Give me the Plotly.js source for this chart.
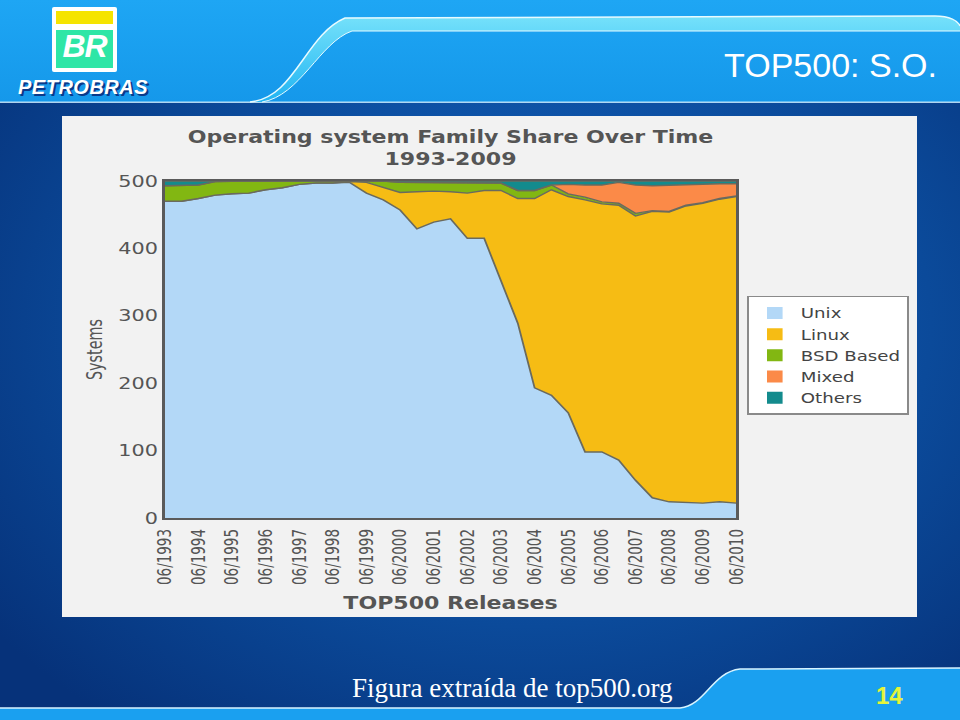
<!DOCTYPE html>
<html>
<head>
<meta charset="utf-8">
<script src="https://cdn.plot.ly/plotly-3.0.1.min.js"></script>
<style>
  html, body { margin:0; padding:0; width:960px; height:720px; overflow:hidden; background:#0a4590; }
  #bg { position:absolute; left:0; top:0; }
  #chart { position:absolute; left:62px; top:116px; width:658px; height:501px;
           transform: scaleX(1.2994); transform-origin: 0 0; }
  .txt { position:absolute; white-space:nowrap; }
</style>
</head>
<body>
<svg id="bg" width="960" height="720" xmlns="http://www.w3.org/2000/svg">
  <defs>
    <radialGradient id="dark" cx="0.55" cy="0.45" r="0.7">
      <stop offset="0" stop-color="#1466c4"/>
      <stop offset="0.6" stop-color="#0b4a9a"/>
      <stop offset="1" stop-color="#06327a"/>
    </radialGradient>
    <linearGradient id="topband" x1="0" y1="0" x2="0" y2="1">
      <stop offset="0" stop-color="#1ea6f4"/>
      <stop offset="1" stop-color="#1598ea"/>
    </linearGradient>
    <linearGradient id="cyan" x1="0" y1="0" x2="0" y2="1">
      <stop offset="0" stop-color="#7fe8fb"/>
      <stop offset="1" stop-color="#22b8f4"/>
    </linearGradient>
  </defs>
  <rect x="0" y="0" width="960" height="720" fill="url(#dark)"/>
  <rect x="0" y="0" width="960" height="102" fill="url(#topband)"/>
  <rect x="0" y="101.5" width="960" height="1.5" fill="#cfefff" opacity="0.85"/>
  <path d="M 250 102 C 295 98, 305 35, 345 18 L 935 16 C 950 16, 958 21, 960 26 L 960 31 L 352 31 C 320 42, 300 96, 262 102 Z" fill="url(#cyan)" opacity="0.9"/>
  <path d="M 250 102 C 295 98, 305 35, 345 18 L 935 16 C 950 16, 958 21, 960 26" fill="none" stroke="#e8fbff" stroke-width="1.5"/>
  <path d="M 262 102 C 300 96, 320 42, 352 31 L 960 31" fill="none" stroke="#e8fbff" stroke-width="1"/>
  <path d="M 0 708 L 680 708 C 705 706, 712 672, 740 669 L 960 668 L 960 720 L 0 720 Z" fill="#1aa0f0"/>
  <path d="M 0 708 L 680 708 C 705 706, 712 672, 740 669 L 960 668" fill="none" stroke="#d8f4ff" stroke-width="1.5"/>
</svg>

<!-- Petrobras logo -->
<div class="txt" style="left:52px;top:7px;width:65px;height:65px;background:#ffffff;border-radius:2px;"></div>
<div class="txt" style="left:56px;top:11px;width:57px;height:13px;background:#f5e400;"></div>
<div class="txt" style="left:56px;top:30px;width:57px;height:38px;background:#2ee6a6;"></div>
<div class="txt" style="left:56px;top:28px;width:57px;text-align:center;font:italic bold 32px 'Liberation Sans';color:#ffffff;letter-spacing:-1px;">BR</div>
<div class="txt" style="left:18px;top:76px;font:italic bold 20px 'Liberation Sans';color:#ffffff;letter-spacing:0.5px;text-shadow:2px 2px 0 #0a3a8a;">PETROBRAS</div>

<div class="txt" style="right:23px;top:46px;font:34px 'Liberation Sans';color:#ffffff;">TOP500: S.O.</div>
<div class="txt" style="left:352px;top:673px;font:27px 'Liberation Serif';color:#ffffff;">Figura extraída de top500.org</div>
<div class="txt" style="left:876px;top:682px;font:bold 24px 'Liberation Sans Narrow','Liberation Sans';color:#e4f43a;">14</div>

<div id="chart"></div>

<script>
// TOP500 releases (semi-annual)
const releases = [
  "06/1993","11/1993","06/1994","11/1994","06/1995","11/1995","06/1996","11/1996",
  "06/1997","11/1997","06/1998","11/1998","06/1999","11/1999","06/2000","11/2000",
  "06/2001","11/2001","06/2002","11/2002","06/2003","11/2003","06/2004","11/2004",
  "06/2005","11/2005","06/2006","11/2006","06/2007","11/2007","06/2008","11/2008",
  "06/2009","11/2009","06/2010"
];
const tickLabels = releases.filter(r => r.startsWith("06/"));

// Number of systems per OS family
const unix   = [470,470,474,479,481,482,487,490,495,497,497,498,482,472,457,429,439,444,415,415,352,289,193,182,156,98,98,86,56,30,24,23,22,24,22];
const linux  = [0,0,0,0,0,0,0,0,0,0,0,1,16,18,26,55,46,40,67,71,134,185,281,305,321,374,368,378,392,425,430,440,445,449,455];
const bsd    = [23,23,20,20,19,18,13,10,5,3,3,1,2,10,15,14,12,13,15,12,11,12,12,7,4,4,3,3,4,1,1,1,1,1,1];
const mixed  = [0,0,0,0,0,0,0,0,0,0,0,0,0,0,0,0,0,0,0,0,0,0,0,0,14,18,25,31,42,37,39,31,28,22,18];
const others = [7,7,6,1,0,0,0,0,0,0,0,0,0,0,2,2,3,3,3,2,3,14,14,6,5,6,6,2,6,7,6,5,4,4,4];

const seriesNames  = ["Unix","Linux","BSD Based","Mixed","Others"];
const seriesValues = [unix, linux, bsd, mixed, others];
const seriesColors = ["#b3d8f7","#f6bc14","#82b712","#fb8a48","#138b8d"];
const yTicks = [0,100,200,300,400,500];

const traces = [];
seriesValues.forEach((vals, k) => {
  traces.push({
    type: "scatter", mode: "lines", x: releases, y: vals,
    stackgroup: "os", fill: "tonexty",
    fillcolor: seriesColors[k],
    line: { color: "#6a6a5e", width: 1.4, shape: "linear" },
    name: seriesNames[k], showlegend: false, hoverinfo: "skip"
  });
});
// legend entries (square swatches)
seriesNames.forEach((nm, k) => {
  traces.push({
    type: "scatter", mode: "markers", x: [null], y: [null],
    name: nm, showlegend: true,
    marker: { symbol: "square", size: 12, color: seriesColors[k], line: { width: 0 } }
  });
});

const layout = {
  width: 658, height: 501,
  paper_bgcolor: "#f2f2f2", plot_bgcolor: "#f2f2f2",
  margin: { l: 78.5, r: 139.3, t: 65, b: 99 },
  showlegend: true,
  title: {
    text: "Operating system Family Share Over Time<br>1993-2009",
    font: { family: "DejaVu Sans", size: 17, color: "#555555", weight: "bold" },
    x: 0.5, xref: "paper", xanchor: "center",
    y: 0.947, yref: "container", yanchor: "top"
  },
  xaxis: {
    type: "category", categoryorder: "array", categoryarray: releases,
    range: [0, releases.length - 1],
    tickmode: "array", tickvals: tickLabels, ticktext: tickLabels,
    tickangle: -90, ticks: "", ticklen: 0, ticklabelstandoff: 3,
    tickfont: { family: "DejaVu Sans Condensed", size: 15, color: "#555555" },
    showline: true, mirror: true, linecolor: "#5a5a5a", linewidth: 2,
    showgrid: false, zeroline: false, automargin: false,
    title: { text: "TOP500 Releases", standoff: 13,
      font: { family: "DejaVu Sans", size: 17, color: "#555555", weight: "bold" } }
  },
  yaxis: {
    range: [0, 500], tickmode: "array", tickvals: yTicks,
    ticks: "", ticklen: 0, ticklabelstandoff: 0,
    tickfont: { family: "DejaVu Sans", size: 16, color: "#555555" },
    showline: true, mirror: true, linecolor: "#5a5a5a", linewidth: 2,
    showgrid: false, zeroline: false, automargin: false,
    title: { text: "Systems", standoff: 8,
      font: { family: "DejaVu Sans Condensed", size: 16, color: "#555555" } }
  },
  legend: {
    xref: "container", yref: "container",
    x: 0.801, xanchor: "left", y: 0.641, yanchor: "top",
    bgcolor: "#ffffff", bordercolor: "#8a8a8a", borderwidth: 1.5,
    traceorder: "normal",
    font: { family: "DejaVu Sans", size: 14, color: "#444444" },
    itemwidth: 30, tracegroupgap: 0
  }
};

Plotly.newPlot("chart", traces, layout, { staticPlot: true, displayModeBar: false });
</script>
</body>
</html>
